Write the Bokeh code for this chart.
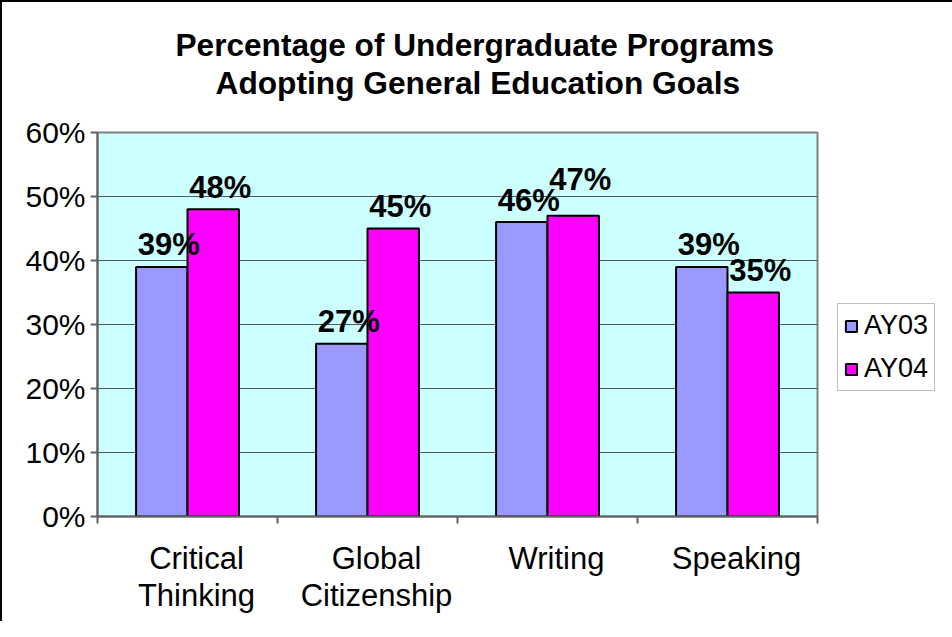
from bokeh.plotting import figure
from bokeh.models import (Range1d, FixedTicker, Legend, LegendItem, Title,
                          ColumnDataSource, LinearAxis)
from bokeh.embed import file_html
from bokeh.resources import INLINE
from bokeh.core.properties import value

# ---------------- data ----------------
title_lines = ["Percentage of Undergraduate Programs",
               "Adopting General Education Goals"]
categories = ["Critical\nThinking", "Global\nCitizenship", "Writing", "Speaking"]
series_names = ["AY03", "AY04"]
ay03 = [39, 27, 46, 39]
ay04 = [48, 45, 47, 35]
y_ticks = [0, 10, 20, 30, 40, 50, 60]
y_tick_labels = ["0%", "10%", "20%", "30%", "40%", "50%", "60%"]

# ---------------- style ----------------
FONT = "Liberation Sans"
C03 = "#9999FF"
C04 = "#FF00FF"
BG = "#CCFFFF"

n = len(categories)
centers = [i + 0.5 for i in range(n)]
bar_w = 1 / 3.5          # Excel gap width 150%
x03 = [c - bar_w / 2 for c in centers]
x04 = [c + bar_w / 2 for c in centers]

p = figure(frame_width=720, frame_height=384,
           min_border_left=95, min_border_right=119,
           min_border_top=130, min_border_bottom=105,
           x_range=Range1d(0, n), y_range=Range1d(y_ticks[0], y_ticks[-1]),
           output_backend="svg", toolbar_location=None,
           background_fill_color=BG, border_fill_color="white",
           styles={"border-left": "2px solid black", "border-top": "2px solid black"})
p.title.visible = False
p.outline_line_color = "#808080"
p.outline_line_width = 2

# bars
src03 = ColumnDataSource(dict(x=x03, top=ay03))
src04 = ColumnDataSource(dict(x=x04, top=ay04))
r03 = p.vbar(x="x", top="top", width=bar_w, source=src03, fill_color=C03,
             line_color="black", line_width=2)
r04 = p.vbar(x="x", top="top", width=bar_w, source=src04, fill_color=C04,
             line_color="black", line_width=2)

# data labels (raised a bit more when the two labels of a group would collide)
base_dy = -22
t03 = ColumnDataSource(dict(x=x03, y=ay03, t=[f"{v}%" for v in ay03],
                            dy=[base_dy] * n))
dy04 = [base_dy - 14 if abs(a - b) < 3 else base_dy for a, b in zip(ay03, ay04)]
t04 = ColumnDataSource(dict(x=x04, y=ay04, t=[f"{v}%" for v in ay04], dy=dy04))
for s in (t03, t04):
    p.text(x="x", y="y", text="t", source=s, x_offset=7, y_offset="dy",
           text_align="center", text_baseline="alphabetic",
           text_font=value(FONT), text_font_size="31px",
           text_font_style="bold", text_color="black")

# y axis
ya = p.yaxis[0]
ya.ticker = FixedTicker(ticks=y_ticks, minor_ticks=[])
ya.major_label_overrides = {t: l for t, l in zip(y_ticks, y_tick_labels)}
ya.major_label_text_font = FONT
ya.major_label_text_font_size = "30px"
ya.major_label_text_color = "black"
ya.major_label_standoff = 5
ya.major_tick_out = 7
ya.major_tick_in = 0
ya.axis_line_color = "#606060"
ya.axis_line_width = 2
ya.major_tick_line_color = "#606060"
ya.major_tick_line_width = 2

# x axis
xa = p.xaxis[0]
label_shift = 0.05
xa.ticker = FixedTicker(ticks=[c + label_shift for c in centers],
                        minor_ticks=list(range(n + 1)))
xa.major_label_overrides = {c + label_shift: l for c, l in zip(centers, categories)}
xa.major_label_text_font = FONT
xa.major_label_text_font_size = "31px"
xa.major_label_text_color = "black"
xa.major_label_standoff = 17
xa.major_label_text_line_height = 1.06
xa.major_tick_out = 0
xa.major_tick_in = 0
xa.minor_tick_out = 7
xa.minor_tick_in = 0
xa.minor_tick_line_color = "#606060"
xa.minor_tick_line_width = 2
xa.axis_line_color = "#606060"
xa.axis_line_width = 2

# grid
p.xgrid.visible = False
p.ygrid.ticker = FixedTicker(ticks=y_ticks[1:])
p.ygrid.grid_line_color = "#4d5a5a"
p.ygrid.grid_line_width = 1.2

# invisible spacer between the plot area and the title block
spacer = LinearAxis(ticker=FixedTicker(ticks=[n / 2], minor_ticks=[]),
                    major_label_overrides={n / 2: ""},
                    major_label_text_font_size="1px", major_label_text_alpha=0,
                    major_tick_out=32, major_tick_in=0, minor_tick_out=0,
                    major_label_standoff=0, axis_line_alpha=0,
                    major_tick_line_alpha=0, minor_tick_line_alpha=0)
p.add_layout(spacer, "above")

# title (two stacked lines, the later one sits further out)
t2 = Title(text=title_lines[1], align="left", offset=118, standoff=0,
           text_font=FONT, text_font_size="31.7px", text_font_style="bold",
           text_color="black")
t1 = Title(text=title_lines[0], align="left", offset=78, standoff=0,
           text_font=FONT, text_font_size="31.6px", text_font_style="bold",
           text_color="black")
p.add_layout(t2, "above")
p.add_layout(t1, "above")

# legend
legend = Legend(items=[LegendItem(label=series_names[0], renderers=[r03]),
                       LegendItem(label=series_names[1], renderers=[r04])],
                location=(20, 125), orientation="vertical",
                label_text_font=FONT, label_text_font_size="27px",
                label_text_color="black",
                glyph_width=14, glyph_height=14, label_height=30,
                label_standoff=6, spacing=12, padding=6, margin=0,
                border_line_color="#808080", border_line_width=1.5,
                background_fill_color="white", background_fill_alpha=1)
p.add_layout(legend, "right")

open("out.html", "w").write(file_html(p, INLINE))
